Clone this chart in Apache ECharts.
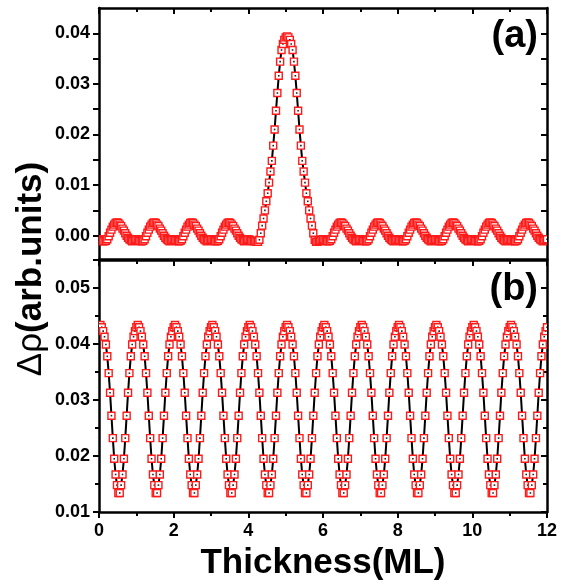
<!DOCTYPE html>
<html>
<head>
<meta charset="utf-8">
<script src="https://cdn.jsdelivr.net/npm/echarts@6/dist/echarts.min.js"></script>
<style>
  html, body { margin: 0; padding: 0; background: #fff; }
  #chart { width: 565px; height: 587px; }
</style>
</head>
<body>
<div id="chart"></div>
<script>
// thickness grid, 27 samples per monolayer, 0 .. 12 ML
const thickness = Array.from({length: 325}, (_, i) => i / 27);

// panel (a)
const rhoA = [
  -0.0007,-0.0008,-0.0010,-0.0011,-0.0011,-0.0010,-0.0007,-0.0001,0.0006,0.0012,0.0018,0.0022,0.0025,0.0026,0.0025,0.0022,0.0019,0.0014,0.0010,0.0005,0.0000,-0.0004,-0.0007,-0.0009,-0.0011,-0.0010,-0.0008,
  -0.0007,-0.0008,-0.0010,-0.0011,-0.0011,-0.0010,-0.0007,-0.0001,0.0006,0.0012,0.0018,0.0022,0.0025,0.0026,0.0025,0.0022,0.0019,0.0014,0.0010,0.0005,0.0000,-0.0004,-0.0007,-0.0009,-0.0011,-0.0010,-0.0008,
  -0.0007,-0.0008,-0.0010,-0.0011,-0.0011,-0.0010,-0.0007,-0.0001,0.0006,0.0012,0.0018,0.0022,0.0025,0.0026,0.0025,0.0022,0.0019,0.0014,0.0010,0.0005,0.0000,-0.0004,-0.0007,-0.0009,-0.0011,-0.0010,-0.0008,
  -0.0007,-0.0008,-0.0010,-0.0011,-0.0011,-0.0010,-0.0007,-0.0001,0.0006,0.0012,0.0018,0.0022,0.0025,0.0026,0.0025,0.0022,0.0019,0.0014,0.0010,0.0005,0.0000,-0.0004,-0.0007,-0.0009,-0.0011,-0.0010,-0.0008,
  -0.0007,-0.0008,-0.0010,-0.0011,-0.0011,-0.0010,-0.0012,-0.0012,-0.0008,0.0005,0.0020,0.0034,0.0050,0.0068,0.0084,0.0105,0.0127,0.0148,0.0178,0.0210,0.0247,0.0282,0.0316,0.0344,0.0367,0.0379,0.0387,
  0.0392,0.0394,0.0392,0.0387,0.0379,0.0367,0.0344,0.0316,0.0282,0.0247,0.0210,0.0178,0.0148,0.0127,0.0105,0.0084,0.0068,0.0050,0.0034,0.0020,0.0005,-0.0008,-0.0012,-0.0012,-0.0011,-0.0010,-0.0008,
  -0.0007,-0.0008,-0.0010,-0.0011,-0.0011,-0.0010,-0.0007,-0.0001,0.0006,0.0012,0.0018,0.0022,0.0025,0.0026,0.0025,0.0022,0.0019,0.0014,0.0010,0.0005,0.0000,-0.0004,-0.0007,-0.0009,-0.0011,-0.0010,-0.0008,
  -0.0007,-0.0008,-0.0010,-0.0011,-0.0011,-0.0010,-0.0007,-0.0001,0.0006,0.0012,0.0018,0.0022,0.0025,0.0026,0.0025,0.0022,0.0019,0.0014,0.0010,0.0005,0.0000,-0.0004,-0.0007,-0.0009,-0.0011,-0.0010,-0.0008,
  -0.0007,-0.0008,-0.0010,-0.0011,-0.0011,-0.0010,-0.0007,-0.0001,0.0006,0.0012,0.0018,0.0022,0.0025,0.0026,0.0025,0.0022,0.0019,0.0014,0.0010,0.0005,0.0000,-0.0004,-0.0007,-0.0009,-0.0011,-0.0010,-0.0008,
  -0.0007,-0.0008,-0.0010,-0.0011,-0.0011,-0.0010,-0.0007,-0.0001,0.0006,0.0012,0.0018,0.0022,0.0025,0.0026,0.0025,0.0022,0.0019,0.0014,0.0010,0.0005,0.0000,-0.0004,-0.0007,-0.0009,-0.0011,-0.0010,-0.0008,
  -0.0007,-0.0008,-0.0010,-0.0011,-0.0011,-0.0010,-0.0007,-0.0001,0.0006,0.0012,0.0018,0.0022,0.0025,0.0026,0.0025,0.0022,0.0019,0.0014,0.0010,0.0005,0.0000,-0.0004,-0.0007,-0.0009,-0.0011,-0.0010,-0.0008,
  -0.0007,-0.0008,-0.0010,-0.0011,-0.0011,-0.0010,-0.0007,-0.0001,0.0006,0.0012,0.0018,0.0022,0.0025,0.0026,0.0025,0.0022,0.0019,0.0014,0.0010,0.0005,0.0000,-0.0004,-0.0007,-0.0009,-0.0011,-0.0010,-0.0008,
  -0.0007
];

// panel (b)
const rhoB = [
  0.0430,0.0434,0.0430,0.0423,0.0413,0.0399,0.0378,0.0348,0.0313,0.0272,0.0232,0.0195,0.0167,0.0148,0.0134,0.0134,0.0148,0.0167,0.0195,0.0232,0.0272,0.0313,0.0348,0.0378,0.0399,0.0413,0.0423,
  0.0430,0.0434,0.0430,0.0423,0.0413,0.0399,0.0378,0.0348,0.0313,0.0272,0.0232,0.0195,0.0167,0.0148,0.0134,0.0134,0.0148,0.0167,0.0195,0.0232,0.0272,0.0313,0.0348,0.0378,0.0399,0.0413,0.0423,
  0.0430,0.0434,0.0430,0.0423,0.0413,0.0399,0.0378,0.0348,0.0313,0.0272,0.0232,0.0195,0.0167,0.0148,0.0134,0.0134,0.0148,0.0167,0.0195,0.0232,0.0272,0.0313,0.0348,0.0378,0.0399,0.0413,0.0423,
  0.0430,0.0434,0.0430,0.0423,0.0413,0.0399,0.0378,0.0348,0.0313,0.0272,0.0232,0.0195,0.0167,0.0148,0.0134,0.0134,0.0148,0.0167,0.0195,0.0232,0.0272,0.0313,0.0348,0.0378,0.0399,0.0413,0.0423,
  0.0430,0.0434,0.0430,0.0423,0.0413,0.0399,0.0378,0.0348,0.0313,0.0272,0.0232,0.0195,0.0167,0.0148,0.0134,0.0134,0.0148,0.0167,0.0195,0.0232,0.0272,0.0313,0.0348,0.0378,0.0399,0.0413,0.0423,
  0.0430,0.0434,0.0430,0.0423,0.0413,0.0399,0.0378,0.0348,0.0313,0.0272,0.0232,0.0195,0.0167,0.0148,0.0134,0.0134,0.0148,0.0167,0.0195,0.0232,0.0272,0.0313,0.0348,0.0378,0.0399,0.0413,0.0423,
  0.0430,0.0434,0.0430,0.0423,0.0413,0.0399,0.0378,0.0348,0.0313,0.0272,0.0232,0.0195,0.0167,0.0148,0.0134,0.0134,0.0148,0.0167,0.0195,0.0232,0.0272,0.0313,0.0348,0.0378,0.0399,0.0413,0.0423,
  0.0430,0.0434,0.0430,0.0423,0.0413,0.0399,0.0378,0.0348,0.0313,0.0272,0.0232,0.0195,0.0167,0.0148,0.0134,0.0134,0.0148,0.0167,0.0195,0.0232,0.0272,0.0313,0.0348,0.0378,0.0399,0.0413,0.0423,
  0.0430,0.0434,0.0430,0.0423,0.0413,0.0399,0.0378,0.0348,0.0313,0.0272,0.0232,0.0195,0.0167,0.0148,0.0134,0.0134,0.0148,0.0167,0.0195,0.0232,0.0272,0.0313,0.0348,0.0378,0.0399,0.0413,0.0423,
  0.0430,0.0434,0.0430,0.0423,0.0413,0.0399,0.0378,0.0348,0.0313,0.0272,0.0232,0.0195,0.0167,0.0148,0.0134,0.0134,0.0148,0.0167,0.0195,0.0232,0.0272,0.0313,0.0348,0.0378,0.0399,0.0413,0.0423,
  0.0430,0.0434,0.0430,0.0423,0.0413,0.0399,0.0378,0.0348,0.0313,0.0272,0.0232,0.0195,0.0167,0.0148,0.0134,0.0134,0.0148,0.0167,0.0195,0.0232,0.0272,0.0313,0.0348,0.0378,0.0399,0.0413,0.0423,
  0.0430,0.0434,0.0430,0.0423,0.0413,0.0399,0.0378,0.0348,0.0313,0.0272,0.0232,0.0195,0.0167,0.0148,0.0134,0.0134,0.0148,0.0167,0.0195,0.0232,0.0272,0.0313,0.0348,0.0378,0.0399,0.0413,0.0423,
  0.0430
];

const yLabelsA = [0, 0.01, 0.02, 0.03, 0.04];
const yTicksA = [0, 0.005, 0.01, 0.015, 0.02, 0.025, 0.03, 0.035, 0.04];

const font = '"Liberation Sans", Arial, sans-serif';
const black = '#000';

const pairsA = thickness.map((t, i) => [t, rhoA[i]]);
const pairsB = thickness.map((t, i) => [t, rhoB[i]]);

function xAxisOf(grid, pos, labels) {
  return {
    gridIndex: grid, type: 'value', position: pos,
    min: 0, max: 12, interval: 2,
    axisLine: {onZero: false, lineStyle: {color: black, width: 2.5}},
    axisTick: {inside: pos === 'top', length: 6, lineStyle: {color: black, width: 2}},
    minorTick: {show: true, splitNumber: 2, length: 4, lineStyle: {color: black, width: 2}},
    axisLabel: {show: labels, margin: 10, color: black, fontWeight: 'bold', fontSize: 18, fontFamily: font},
    splitLine: {show: false}
  }
}

function yAxisB(pos) {
  return {
    gridIndex: 1, type: 'value', position: pos,
    min: 0.01, max: 0.055, interval: 0.01,
    axisLine: {onZero: false, lineStyle: {color: black, width: 2.5}},
    axisTick: {inside: pos === 'right', length: 6, lineStyle: {color: black, width: 2}},
    minorTick: {show: true, splitNumber: 2, length: 4, lineStyle: {color: black, width: 2}},
    axisLabel: {show: pos === 'left', showMaxLabel: false, margin: 9, color: black, fontWeight: 'bold', fontSize: 18,
      fontFamily: font, formatter: v => v.toFixed(2)},
    splitLine: {show: false}
  }
}

function yAxisA(pos) {
  return {
    gridIndex: 0, type: 'value', position: pos,
    min: -0.0046, max: 0.045,
    axisLine: {onZero: false, lineStyle: {color: black, width: 2.5}},
    axisTick: {inside: pos === 'right', length: 6, customValues: yTicksA, lineStyle: {color: black, width: 2}},
    axisLabel: {show: pos === 'left', margin: 9, color: black, fontWeight: 'bold', fontSize: 18, fontFamily: font,
      customValues: yLabelsA, formatter: v => v.toFixed(2)},
    splitLine: {show: false}
  }
}

function renderMarker(params, api) {
  const p = api.coord([api.value(0), api.value(1)]);
  return {
    type: 'group',
    children: [
      {type: 'rect', shape: {x: p[0] - 3.5, y: p[1] - 3.5, width: 7, height: 7},
        style: {fill: '#fff', stroke: '#ff1a1a', lineWidth: 1.4}},
      {type: 'rect', shape: {x: p[0] - 0.8, y: p[1] - 0.8, width: 1.6, height: 1.6},
        style: {fill: '#222'}}
    ]
  };
}

const chart = echarts.init(document.getElementById('chart'));
chart.setOption({
  animation: false,
  backgroundColor: '#fff',
  grid: [
    {left: 99, right: 18, top: 8, height: 251},
    {left: 99, right: 18, top: 260, height: 252}
  ],
  xAxis: [
    xAxisOf(0, 'bottom', false),
    xAxisOf(0, 'top', false),
    Object.assign(xAxisOf(1, 'bottom', true), {
      name: 'Thickness(ML)', nameLocation: 'middle', nameGap: 34,
      nameTextStyle: {color: black, fontWeight: 'bold', fontSize: 35, fontFamily: font}
    }),
    xAxisOf(1, 'top', false)
  ],
  yAxis: [
    yAxisA('left'),
    yAxisA('right'),
    yAxisB('left'),
    yAxisB('right')
  ],
  graphic: [
    {type: 'text', x: 31, y: 269, rotation: Math.PI / 2,
      style: {text: '{g|Δρ}{b|(arb.units)}', align: 'center', verticalAlign: 'middle', fill: black,
        rich: {
          g: {fontSize: 35, fontFamily: font, fill: black},
          b: {fontSize: 35, fontWeight: 'bold', fontFamily: font, fill: black}
        }}},
    {type: 'text', x: 538, y: 37, style: {text: '(a)', align: 'right', verticalAlign: 'middle',
      font: 'bold 38px ' + font, fill: black}},
    {type: 'text', x: 538, y: 290, style: {text: '(b)', align: 'right', verticalAlign: 'middle',
      font: 'bold 38px ' + font, fill: black}}
  ],
  series: [
    {type: 'line', xAxisIndex: 0, yAxisIndex: 0, data: pairsA, symbol: 'none', clip: true,
      lineStyle: {color: black, width: 2}, z: 2},
    {type: 'custom', xAxisIndex: 0, yAxisIndex: 0, data: pairsA, renderItem: renderMarker, clip: true, z: 3},
    {type: 'line', xAxisIndex: 2, yAxisIndex: 2, data: pairsB, symbol: 'none', clip: true,
      lineStyle: {color: black, width: 2}, z: 2},
    {type: 'custom', xAxisIndex: 2, yAxisIndex: 2, data: pairsB, renderItem: renderMarker, clip: true, z: 3}
  ]
});
</script>
</body>
</html>
